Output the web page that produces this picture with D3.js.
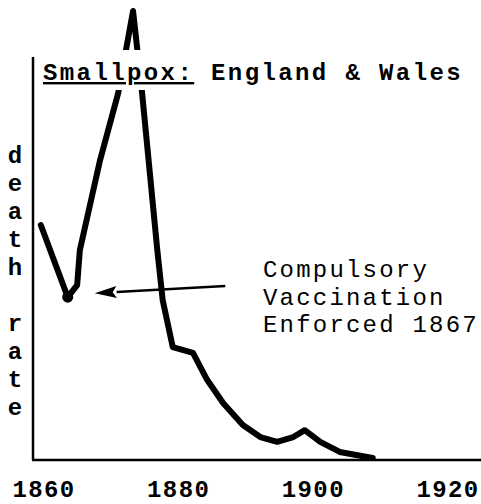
<!DOCTYPE html>
<html>
<head>
<meta charset="utf-8">
<script src="https://cdn.jsdelivr.net/npm/d3@7"></script>
<style>
  body { margin: 0; background: #fff; }
  svg { display: block; }
</style>
</head>
<body>
<svg id="chart"></svg>
<script>
// smallpox death rate, England & Wales
const years = [1859.6, 1863.6, 1865.0, 1865.4, 1868.4, 1871.1, 1873.3, 1874.6, 1876.9, 1877.7,
               1879.2, 1882.2, 1884.3, 1886.7, 1889.6, 1892.2, 1894.7, 1897.1, 1898.8, 1901.1,
               1904.0, 1908.9]
const rates = [58.3, 40.4, 43.4, 52.1, 74.4, 91.1, 111.4, 91.8, 52.1, 39.7,
               28.0, 26.6, 19.9, 14.1, 8.7, 5.7, 4.5, 5.7, 7.4, 4.5,
               2.0, 0.5]
const tickYears = [1860, 1880, 1900, 1920]
const yLabel = ['d', 'e', 'a', 't', 'h', '', 'r', 'a', 't', 'e']
const titleMain = 'Smallpox:'
const titleRest = ' England & Wales'
const noteLines = ['Compulsory', 'Vaccination', 'Enforced 1867']
const dipIndex = 1
// arrow from the note to the 1867 point
const arrowFrom = [1887.0, 43.2]
const arrowTo = [1867.6, 41.4]

const w = 481
const h = 504
const font = '"Liberation Mono", "Courier New", monospace'

const svg = d3.select('#chart')
  .attr('width', w)
  .attr('height', h)
  .style('background-color', '#fff')

const x = d3.scaleLinear().domain([1860, 1920]).range([43.5, 447.5])
const y = d3.scaleLinear().domain([0, 100]).range([460, 57])

const data = years.map((yr, i) => [yr, rates[i]])

// curve
const line = d3.line().x(d => x(d[0])).y(d => y(d[1]))
svg.append('path')
  .datum(data)
  .attr('d', line)
  .attr('fill', 'none')
  .attr('stroke', '#000')
  .attr('stroke-width', 6)
  .attr('stroke-linejoin', 'round')
  .attr('stroke-linecap', 'round')

svg.append('circle')
  .attr('cx', x(data[dipIndex][0]))
  .attr('cy', y(data[dipIndex][1]))
  .attr('r', 5.5)
  .attr('fill', '#000')

// white band behind the title cuts the curve
svg.append('rect')
  .attr('x', 38).attr('y', 50)
  .attr('width', w - 38).attr('height', 40)
  .attr('fill', '#fff')

// axes
svg.append('line')
  .attr('x1', x.range()[0] - 10.5).attr('x2', x.range()[0] - 10.5)
  .attr('y1', y(100)).attr('y2', y(0))
  .attr('stroke', '#000').attr('stroke-width', 2.5)
svg.append('line')
  .attr('x1', x.range()[0] - 11.5).attr('x2', w)
  .attr('y1', y(0)).attr('y2', y(0))
  .attr('stroke', '#000').attr('stroke-width', 2.5)

const xAxis = d3.axisBottom(x).tickValues(tickYears).tickFormat(d3.format('d')).tickSize(0).tickPadding(0)
const gx = svg.append('g')
  .attr('transform', `translate(0, ${y(0)})`)
  .call(xAxis)
gx.select('.domain').remove()
gx.selectAll('text')
  .attr('y', 37)
  .attr('dy', 0)
  .style('font-family', font)
  .style('font-size', '24px')
  .style('font-weight', 'bold')
  .style('letter-spacing', '1.4px')
  .attr('fill', '#000')

// y label, stacked letters
svg.append('g')
  .selectAll('text')
  .data(yLabel)
  .enter()
  .append('text')
    .attr('x', 15)
    .attr('y', (d, i) => 163 + i * 28)
    .attr('text-anchor', 'middle')
    .style('font-family', font)
    .style('font-size', '24px')
    .style('font-weight', 'bold')
    .text(d => d)

// title
const title = svg.append('text')
  .attr('x', 43)
  .attr('y', 80)
  .style('font-family', font)
  .style('font-size', '24px')
  .style('font-weight', 'bold')
  .style('letter-spacing', '2.4px')
title.append('tspan').style('text-decoration', 'underline').text(titleMain)
title.append('tspan').style('white-space', 'pre').text(titleRest)

// annotation
svg.append('g')
  .selectAll('text')
  .data(noteLines)
  .enter()
  .append('text')
    .attr('x', 263)
    .attr('y', (d, i) => 277 + i * 27.5)
    .style('font-family', font)
    .style('font-size', '24px')
    .style('letter-spacing', '2.2px')
    .text(d => d)

// arrow
const ax0 = x(arrowFrom[0]), ay0 = y(arrowFrom[1])
const ax1 = x(arrowTo[0]), ay1 = y(arrowTo[1])
const ang = Math.atan2(ay1 - ay0, ax1 - ax0)
const headLen = 22, headW = 6
const bx = ax1 - headLen * Math.cos(ang), by = ay1 - headLen * Math.sin(ang)
svg.append('line')
  .attr('x1', ax0).attr('y1', ay0)
  .attr('x2', bx).attr('y2', by)
  .attr('stroke', '#000').attr('stroke-width', 2.5)
svg.append('path')
  .attr('d', `M${ax1},${ay1}L${bx - headW * Math.sin(ang)},${by + headW * Math.cos(ang)}L${bx + 4 * Math.cos(ang)},${by + 4 * Math.sin(ang)}L${bx + headW * Math.sin(ang)},${by - headW * Math.cos(ang)}Z`)
  .attr('fill', '#000')
</script>
</body>
</html>
